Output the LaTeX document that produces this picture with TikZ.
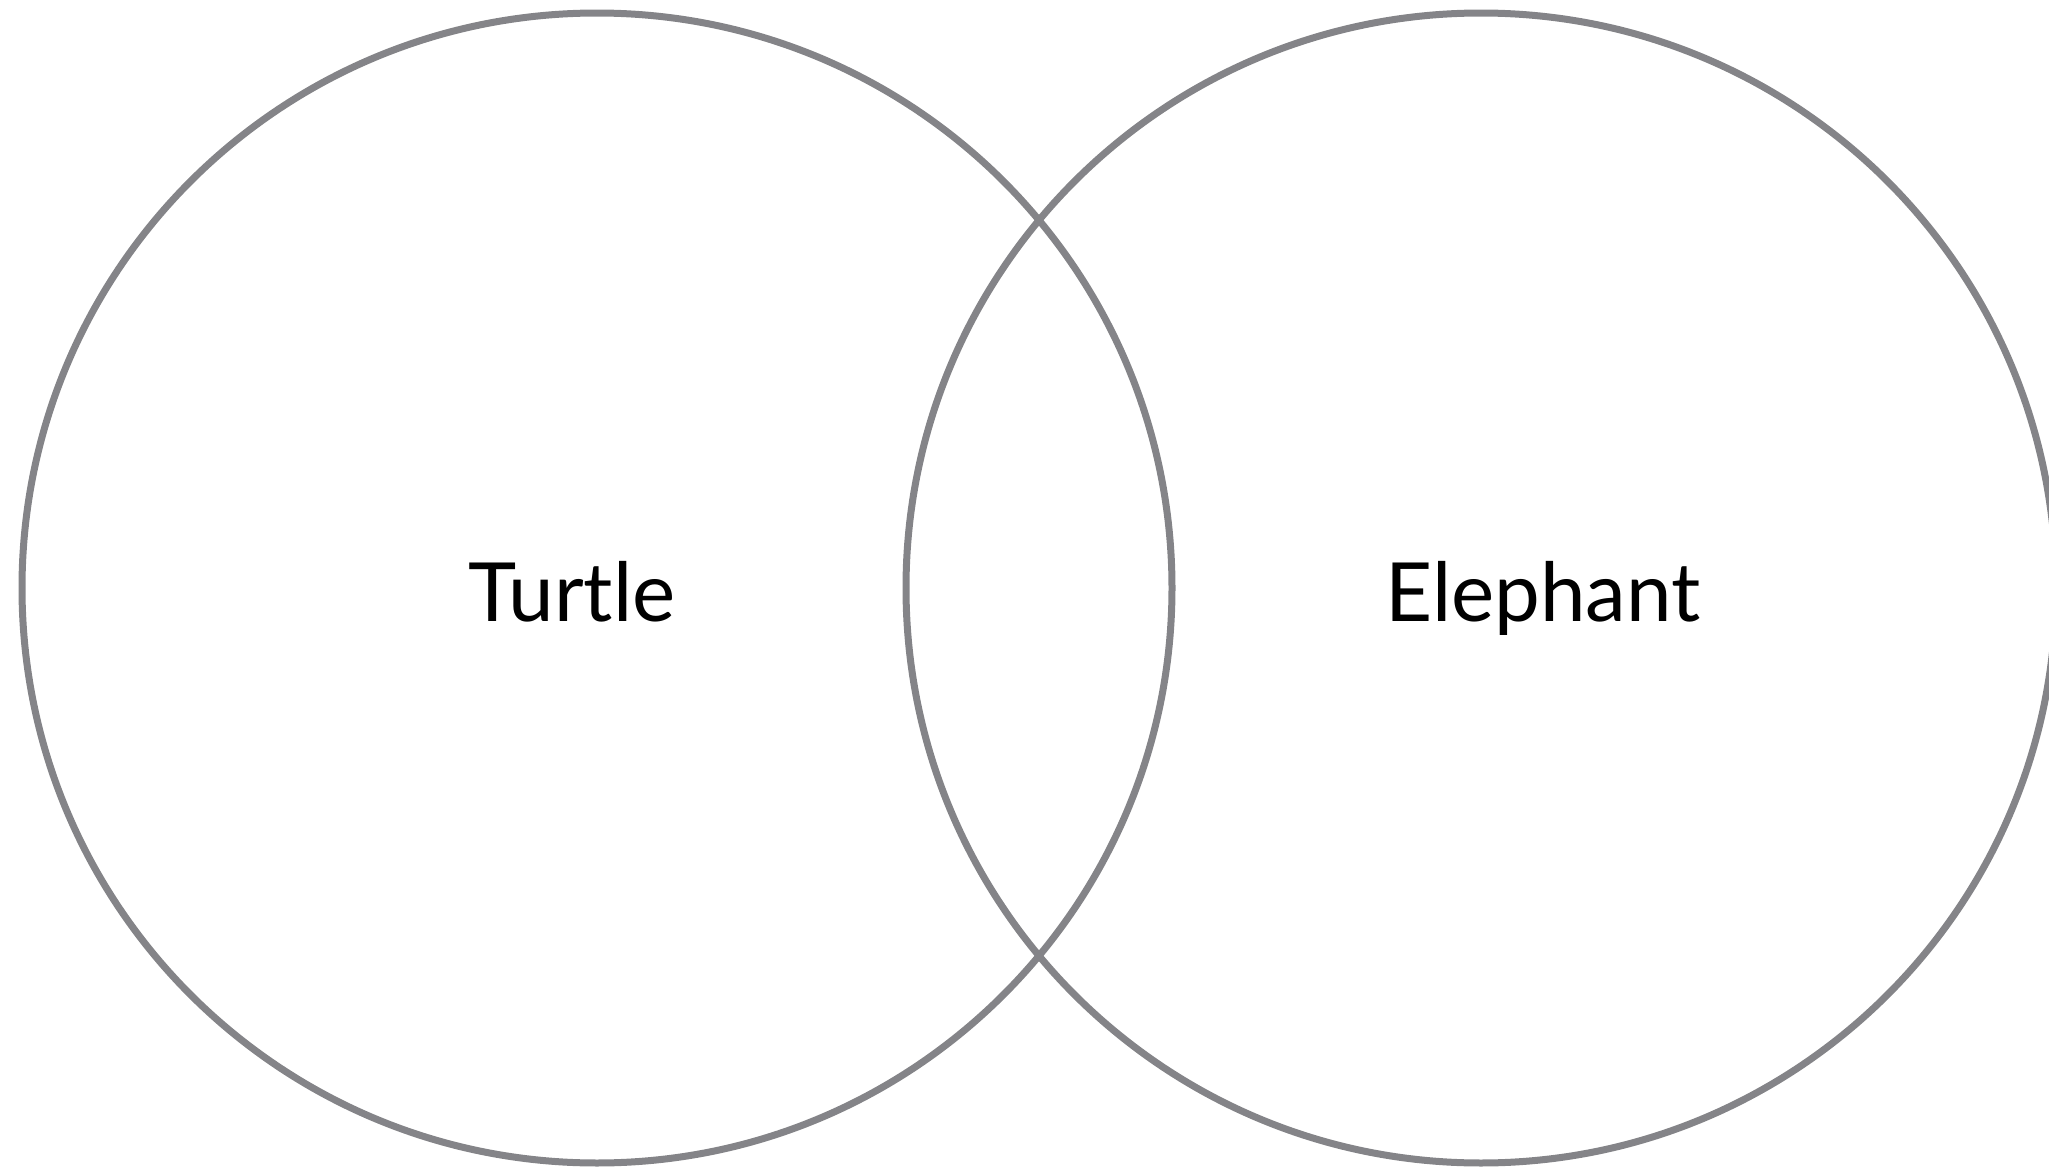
\documentclass[tikz,border=0pt]{standalone}
\usepackage{fontspec}
\setmainfont{Lato}
\usepackage{xcolor}
\usetikzlibrary{positioning}
\definecolor{RingGray}{HTML}{848488}

\begin{document}
\begin{tikzpicture}[
    x=0.3pt, y=-0.3pt,
    % Style for the two set circles
    ring/.style = {
        circle, draw=RingGray, line width=2.1pt,
        minimum size=345pt, inner sep=0pt
    },
    % Style for the set names
    setname/.style = {font=\fontsize{24.5}{30}\selectfont, text=black, anchor=base},
]
\useasboundingbox (0,0) rectangle (2049,1171);

% --- 1. SET CIRCLES ---
\node[ring] (turtle) at (597,588) {};
\node[ring] (elephant) at (1481,588) {};

% --- 2. SET NAMES ---
\node[setname] (turtlelbl) at (572,621) {Turtle};
\node[setname] (elephantlbl) at (1543,621) {Elephant};

\end{tikzpicture}
\end{document}
